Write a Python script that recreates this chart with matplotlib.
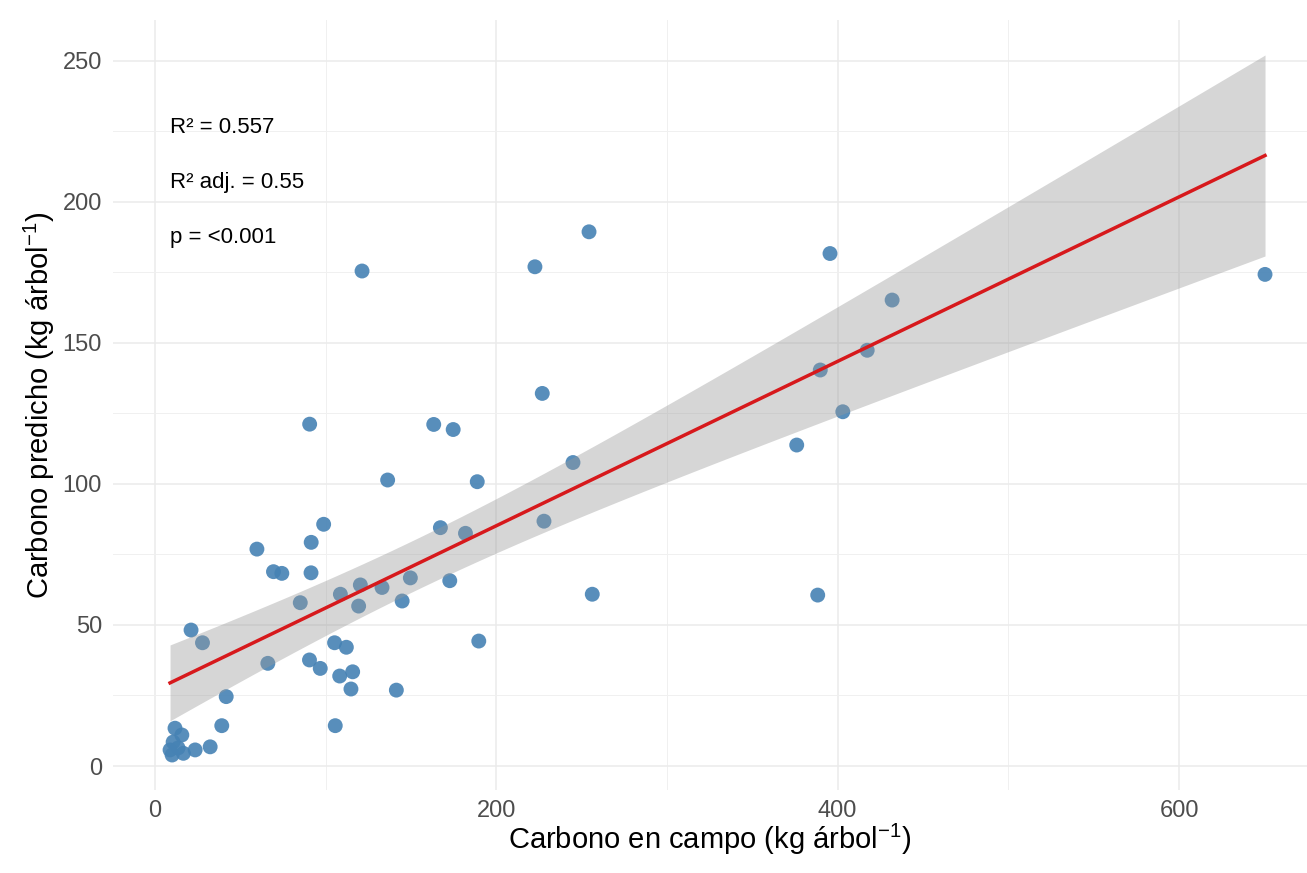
import numpy as np
import matplotlib
matplotlib.use("Agg")
import matplotlib.pyplot as plt

plt.rcParams['font.family'] = ['Liberation Sans', 'DejaVu Sans']
plt.rcParams['mathtext.fontset'] = 'custom'
plt.rcParams['mathtext.rm'] = 'Liberation Sans'
plt.rcParams['mathtext.it'] = 'Liberation Sans:italic'

# Carbono en campo (x) y carbono predicho (y), kg por arbol
campo = [8.8, 10.6, 13.5, 16.6, 10.0, 11.7, 15.7, 23.5, 32.3, 39.1,
         41.7, 21.1, 27.8, 59.7, 66.1, 69.4, 74.3, 85.1, 90.5, 91.4,
         91.5, 90.6, 96.8, 98.8, 105.2, 105.6, 108.2, 108.6, 112.1, 114.8,
         115.8, 119.3, 120.3, 121.3, 133.0, 136.3, 141.4, 144.8, 149.6, 163.3,
         167.2, 172.7, 174.7, 181.9, 188.8, 189.7, 222.6, 226.9, 227.9, 244.9,
         254.3, 256.2, 376.0, 388.3, 389.8, 395.5, 403.0, 417.3, 431.9, 650.4]
predicho = [5.7, 8.5, 6.4, 4.5, 3.9, 13.4, 11.0, 5.7, 6.8, 14.3,
            24.6, 48.2, 43.7, 76.9, 36.4, 68.9, 68.3, 57.9, 37.6, 68.5,
            79.3, 121.2, 34.6, 85.7, 43.7, 14.3, 31.9, 60.9, 42.1, 27.3,
            33.4, 56.7, 64.2, 175.5, 63.3, 101.4, 26.9, 58.5, 66.7, 121.1,
            84.5, 65.7, 119.3, 82.5, 100.8, 44.3, 177.0, 132.1, 86.8, 107.6,
            189.4, 60.9, 113.8, 60.6, 140.4, 181.7, 125.6, 147.4, 165.2, 174.3]

etiquetas = ["R² = 0.557", "R² adj. = 0.55", "p = <0.001"]
etiq_y = [226.5, 207, 187.5]

x = np.array(campo)
y = np.array(predicho)

# ajuste lineal y banda de confianza 95%
n = len(x)
b1, b0 = np.polyfit(x, y, 1)
res = y - (b0 + b1 * x)
s = np.sqrt(np.sum(res**2) / (n - 2))
xs = np.linspace(x.min(), x.max(), 80)
ys = b0 + b1 * xs
se = s * np.sqrt(1 / n + (xs - x.mean())**2 / np.sum((x - x.mean())**2))
t = 2.0
lo = ys - t * se
hi = ys + t * se

fig = plt.figure(figsize=(13.07, 8.73), dpi=100)
ax = fig.add_axes([0.0865, 0.0951, 0.9135, 0.882])

ax.scatter(x, y, s=115, color='#4682B4', alpha=0.9, edgecolors='none', zorder=3)
ax.fill_between(xs, lo, hi, color='#999999', alpha=0.4, linewidth=0, zorder=4)
ax.plot(xs, ys, color='#D7191C', linewidth=2.5, zorder=5)

for txt, yy in zip(etiquetas, etiq_y):
    ax.text(x.min(), yy, txt, fontsize=16, color='black', ha='left', va='center')

ax.set_xlim(-24.6, 675)
ax.set_ylim(-8.5, 264.5)
ax.set_xticks([0, 200, 400, 600])
ax.set_xticks([100, 300, 500], minor=True)
ax.set_yticks([0, 50, 100, 150, 200, 250])
ax.set_yticks([25, 75, 125, 175, 225], minor=True)
ax.grid(which='major', color='#EBEBEB', linewidth=1.1)
ax.grid(which='minor', color='#F0F0F0', linewidth=0.7)
ax.set_axisbelow(True)
for sp in ax.spines.values():
    sp.set_visible(False)
ax.tick_params(which='both', length=0)
ax.tick_params(axis='x', labelsize=17, labelcolor='#4D4D4D', pad=7)
ax.tick_params(axis='y', labelsize=17, labelcolor='#4D4D4D', pad=8)

ax.set_xlabel("Carbono en campo (kg árbol$^{-1}$)", fontsize=21, labelpad=0)
ax.set_ylabel("Carbono predicho (kg árbol$^{-1}$)", fontsize=21, labelpad=4)

fig.savefig("out.png", dpi=100, facecolor='white')
